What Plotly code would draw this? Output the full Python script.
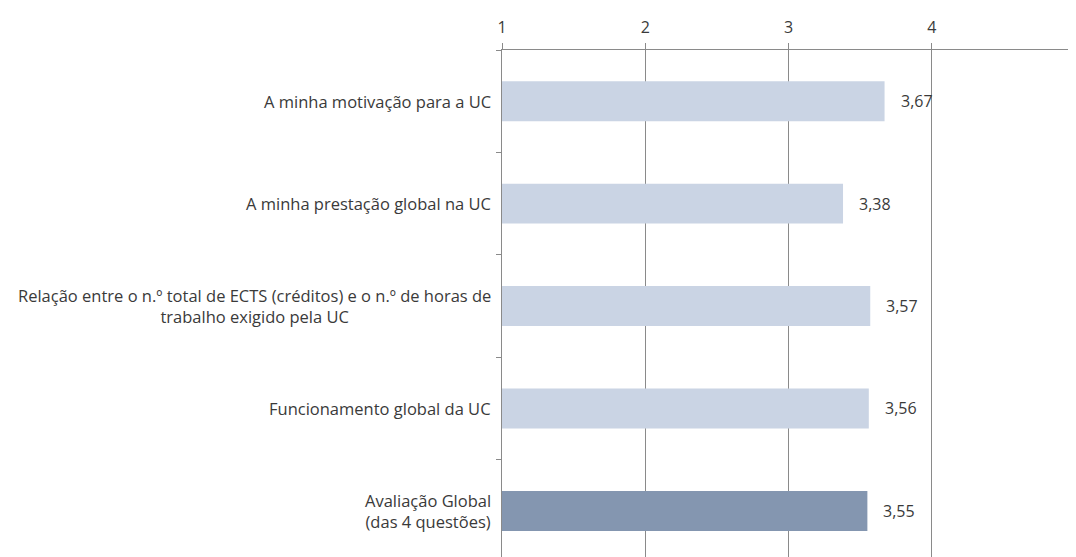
import plotly.graph_objects as go

categories = [
    "A minha motivação para a UC",
    "A minha prestação global na UC",
    "Relação entre o n.º total de ECTS (créditos) e o n.º de horas de<br>trabalho exigido pela UC",
    "Funcionamento global da UC",
    "Avaliação Global<br>(das 4 questões)",
]
values = [3.67, 3.38, 3.57, 3.56, 3.55]
bar_colors = ["#CAD4E4", "#CAD4E4", "#CAD4E4", "#CAD4E4", "#8496B0"]
tick_vals = [1, 2, 3, 4, 5]

TXT = "#3A3A3A"
FONT = "Open Sans"
GRID = "#8A8A8A"

fig = go.Figure()
fig.add_trace(go.Bar(
    y=list(range(len(categories))), x=values, orientation="h",
    marker=dict(color=bar_colors, line=dict(width=0)),
    width=0.39, hoverinfo="skip",
))

for i, (c, v) in enumerate(zip(categories, values)):
    fig.add_annotation(
        x=v, y=i, xref="x", yref="y", text=f"{v:.2f}".replace(".", ","),
        showarrow=False, xanchor="left", xshift=14,
        font=dict(family=FONT, size=16, color=TXT),
    )
    fig.add_annotation(
        x=0, y=i, xref="paper", yref="y", text=c,
        showarrow=False, xanchor="right", xshift=-9, align="center",
        font=dict(family=FONT, size=16.5, color=TXT),
    )

fig.update_layout(
    width=1068, height=549,
    margin=dict(l=494, r=0, t=42, b=0),
    plot_bgcolor="white", paper_bgcolor="white",
    showlegend=False,
    separators=",.",
    font=dict(family=FONT, size=16, color=TXT),
)
fig.update_xaxes(
    range=[1, 5.006], side="top", tickvals=tick_vals,
    showgrid=True, gridcolor=GRID, gridwidth=1,
    showline=True, linecolor=GRID, linewidth=1,
    ticks="outside", ticklen=6, tickcolor=GRID,
    zeroline=False, fixedrange=True, automargin=False,
    ticklabeloverflow="allow", ticklabelstandoff=4,
    tickfont=dict(family=FONT, size=16, color=TXT),
)
fig.update_yaxes(
    range=[4.45, -0.5], showline=True, linecolor=GRID, linewidth=1,
    ticks="outside", ticklen=5, tickcolor=GRID,
    tickvals=[-0.5, 0.5, 1.5, 2.5, 3.5, 4.5], showticklabels=False,
    showgrid=False, zeroline=False, automargin=False,
)

fig.write_html("out.html")
